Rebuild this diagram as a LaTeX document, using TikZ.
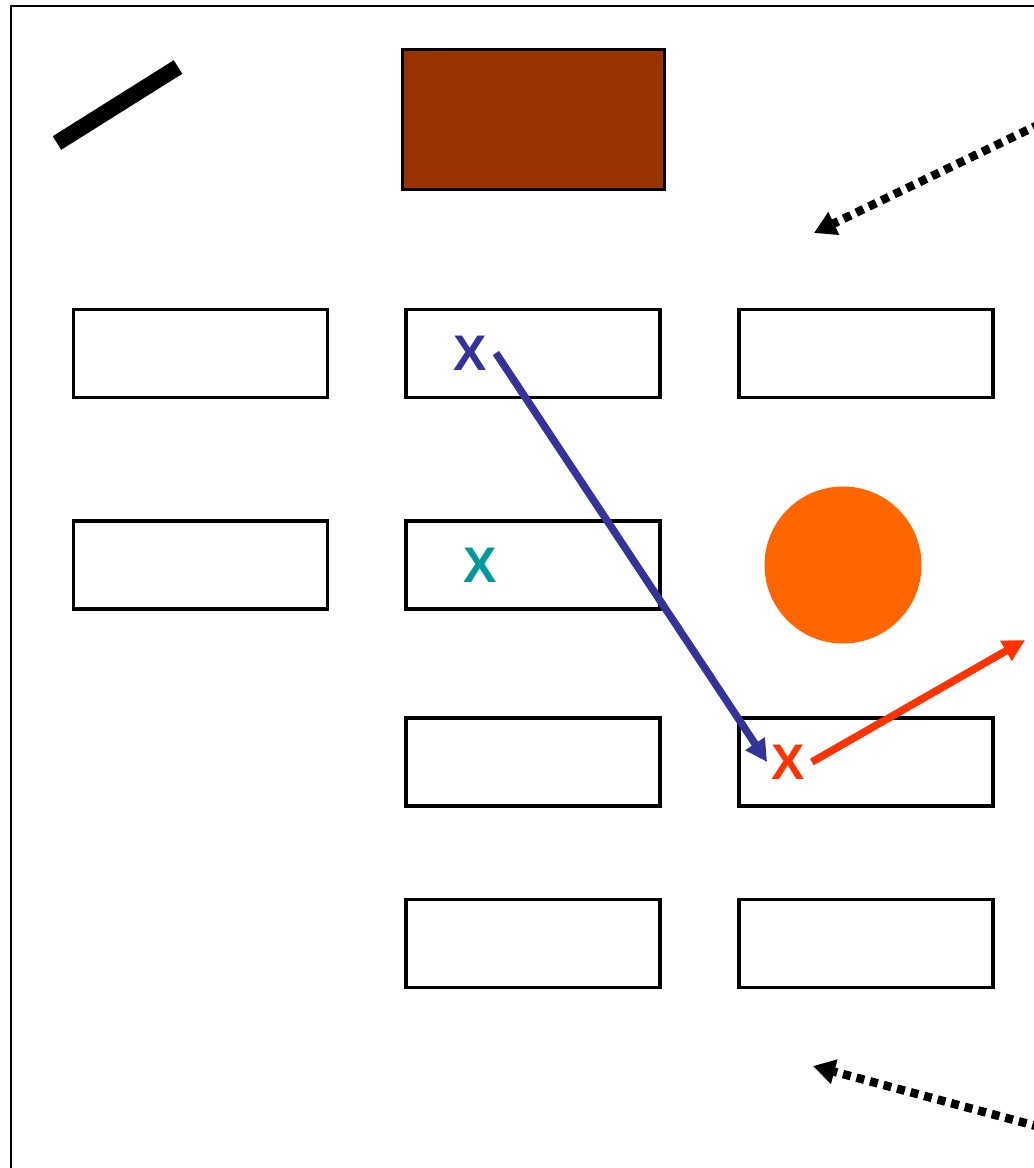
\documentclass[tikz,border=0pt]{standalone}
\usepackage{fontspec}
\setmainfont{Liberation Sans}
\usetikzlibrary{arrows.meta}
\definecolor{brownfill}{HTML}{993300}
\definecolor{orangefill}{HTML}{FF6600}
\definecolor{xblue}{HTML}{333399}
\definecolor{xteal}{HTML}{009999}
\definecolor{xred}{HTML}{FF3300}
\begin{document}
\begin{tikzpicture}[x=1pt,y=-1pt,
  cell/.style={draw=black,line width=3.5pt,minimum width=254pt,minimum height=88pt,inner sep=0pt},
  xmark/.style={font=\bfseries\fontsize{50}{50}\selectfont,inner sep=2pt},
  dotarrow/.style={line width=8.5pt,dash pattern=on 8pt off 6pt,-{Triangle[length=22pt,width=24pt]}},
  solidarrow/.style={line width=7.5pt,-{Triangle[length=22pt,width=22pt]}}]
\useasboundingbox (0,0) rectangle (1034,1168);
% frame
\draw[line width=2.5pt] (11,1180) -- (11,6) -- (1050,6);
% thick bar
\draw[line width=16pt] (57,143) -- (178,67);
% brown rectangle
\node[draw=black,line width=3pt,fill=brownfill,minimum width=262pt,minimum height=140pt,inner sep=0pt] (brown) at (533,119) {};
% cells
\node[cell] (a1) at (200.5,353.5) {};
\node[cell] (b1) at (533,353.5) {};
\node[cell] (c1) at (866,353.5) {};
\node[cell] (a2) at (200.5,565) {};
\node[cell] (b2) at (533,565) {};
\node[cell] (b3) at (533,762) {};
\node[cell] (c3) at (866,762) {};
\node[cell] (b4) at (533,943.5) {};
\node[cell] (c4) at (866,943.5) {};
% circle
\node[circle,fill=orangefill,minimum size=157pt,inner sep=0pt] (circ) at (843,565) {};
% X marks
\node[xmark,text=xblue] (xb) at (470,353) {X};
\node[xmark,text=xteal] (xt) at (480,565) {X};
\node[xmark,text=xred] (xr) at (788,762) {X};
% dotted arrows
\coordinate (d1s) at (1040,124);
\coordinate (d1e) at (814,233);
\coordinate (d2s) at (1040,1127);
\coordinate (d2e) at (813,1066);
\draw[dotarrow] (d1s) -- (d1e);
\draw[dotarrow] (d2s) -- (d2e);
% solid arrows
\coordinate (redend) at (1025,640);
\draw[solidarrow,draw=xblue,fill=xblue] ([xshift=7pt]xb.east) -- ([xshift=-2pt]xr.west);
\draw[solidarrow,draw=xred,fill=xred] ([xshift=5pt]xr.east) -- (redend);
\end{tikzpicture}
\end{document}
